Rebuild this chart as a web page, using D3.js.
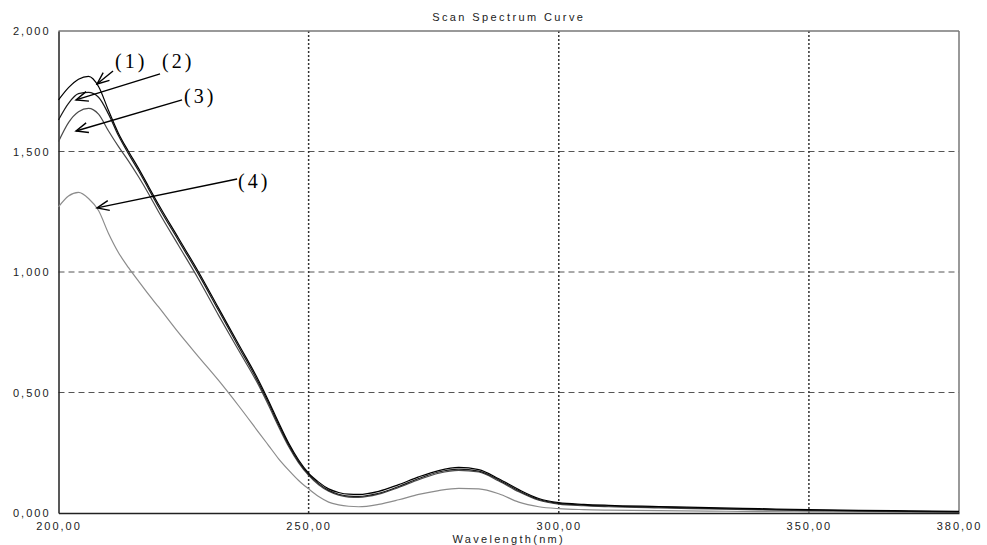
<!DOCTYPE html>
<html>
<head>
<meta charset="utf-8">
<script src="https://cdn.jsdelivr.net/npm/d3@7"></script>
<style>
  body { margin: 0; background: #fff; }
  svg { display: block; }
</style>
</head>
<body>
<svg width="987" height="545"></svg>
<script>
// wavelength (nm) sampling points shared by all four scans
var wavelengths = [200, 202, 204, 206, 208, 210, 212, 214, 216, 218, 220, 224, 228, 232, 236, 240,
  242, 244, 246, 248, 250, 252, 254, 256, 258, 260, 264, 268, 272, 276, 280, 284, 288, 292, 296,
  300, 305, 310, 320, 330, 340, 350, 360, 370, 380];

var curve1 = [1.714, 1.765, 1.800, 1.812, 1.770, 1.670, 1.575, 1.500, 1.430, 1.355, 1.280, 1.140, 1.000, 0.850, 0.700, 0.550,
  0.465, 0.375, 0.290, 0.220, 0.165, 0.128, 0.100, 0.085, 0.078, 0.077, 0.090, 0.118, 0.150, 0.176, 0.189, 0.180, 0.142, 0.097, 0.060,
  0.043, 0.036, 0.032, 0.027, 0.022, 0.018, 0.014, 0.011, 0.009, 0.007];

var curve2 = [1.631, 1.700, 1.740, 1.745, 1.725, 1.655, 1.565, 1.490, 1.420, 1.345, 1.270, 1.130, 0.990, 0.840, 0.690, 0.540,
  0.456, 0.366, 0.282, 0.213, 0.160, 0.122, 0.094, 0.078, 0.070, 0.069, 0.082, 0.110, 0.143, 0.170, 0.182, 0.174, 0.137, 0.092, 0.056,
  0.040, 0.033, 0.029, 0.024, 0.019, 0.015, 0.012, 0.009, 0.007, 0.005];

var curve3 = [1.541, 1.620, 1.665, 1.679, 1.655, 1.585, 1.520, 1.460, 1.395, 1.325, 1.250, 1.110, 0.970, 0.820, 0.675, 0.530,
  0.446, 0.358, 0.276, 0.208, 0.156, 0.117, 0.090, 0.074, 0.066, 0.065, 0.078, 0.106, 0.138, 0.165, 0.177, 0.170, 0.133, 0.088, 0.053,
  0.037, 0.030, 0.026, 0.021, 0.017, 0.013, 0.010, 0.008, 0.006, 0.004];

var curve4 = [1.270, 1.315, 1.330, 1.305, 1.255, 1.160, 1.080, 1.018, 0.962, 0.907, 0.855, 0.748, 0.648, 0.550, 0.445, 0.335,
  0.280, 0.225, 0.178, 0.135, 0.100, 0.068, 0.045, 0.034, 0.028, 0.026, 0.036, 0.055, 0.077, 0.093, 0.102, 0.100, 0.080, 0.045, 0.026,
  0.018, 0.014, 0.012, 0.010, 0.008, 0.006, 0.005, 0.004, 0.003, 0.002];

var seriesLabels = ["(1)", "(2)", "(3)", "(4)"];
var seriesColors = ["#000", "#1a1a1a", "#4a4a4a", "#8c8c8c"];

var xTicks = [200, 250, 300, 350, 380];
var xTickLabels = ["200,00", "250,00", "300,00", "350,00", "380,00"];
var yTicks = [0, 0.5, 1, 1.5, 2];
var yTickLabels = ["0,000", "0,500", "1,000", "1,500", "2,000"];

// annotation labels and arrows, in wavelength / absorbance units
var labelWl = [211.3, 220.7, 225.1, 235.9];
var labelAbs = [1.846, 1.846, 1.701, 1.349];
var arrowFromWl = [210.9, 220.3, 224.7, 235.7];
var arrowFromAbs = [1.834, 1.822, 1.714, 1.386];
var arrowToWl = [207.7, 203.5, 203.5, 207.7];
var arrowToAbs = [1.780, 1.714, 1.585, 1.266];

var svg = d3.select("svg"),
  margin = { top: 31, right: 28, bottom: 32, left: 58.5 },
  width = +svg.attr("width") - margin.left - margin.right,
  height = +svg.attr("height") - margin.top - margin.bottom,
  g = svg.append("g").attr("transform", "translate(" + margin.left + "," + margin.top + ")");

var x = d3.scaleLinear().domain([200, 380]).range([0, width]);
var y = d3.scaleLinear().domain([0, 2]).range([height, 0]);

// grid
g.append("g")
  .selectAll("line")
  .data([0.5, 1, 1.5])
  .enter().append("line")
  .attr("x1", 0).attr("x2", width)
  .attr("y1", function(d) { return y(d); })
  .attr("y2", function(d) { return y(d); })
  .attr("stroke", "#555")
  .attr("stroke-width", 1)
  .attr("stroke-dasharray", "6,4");

g.append("g")
  .selectAll("line")
  .data([250, 300, 350])
  .enter().append("line")
  .attr("x1", function(d) { return x(d); })
  .attr("x2", function(d) { return x(d); })
  .attr("y1", 0).attr("y2", height)
  .attr("stroke", "#333")
  .attr("stroke-width", 1.5)
  .attr("stroke-dasharray", "2,2");

// frame
g.append("line").attr("x1", 0).attr("x2", width).attr("y1", 0).attr("y2", 0)
  .attr("stroke", "#777").attr("stroke-width", 1.5);
g.append("line").attr("x1", width).attr("x2", width).attr("y1", 0).attr("y2", height)
  .attr("stroke", "#777").attr("stroke-width", 1.5);

// axes
var xAxis = g.append("g")
  .attr("transform", "translate(0," + height + ")")
  .call(d3.axisBottom(x).tickValues(xTicks).tickSize(0).tickPadding(9)
    .tickFormat(function(d, i) { return xTickLabels[i]; }));

var yAxis = g.append("g")
  .call(d3.axisLeft(y).tickValues(yTicks).tickSize(0).tickPadding(8)
    .tickFormat(function(d, i) { return yTickLabels[i]; }));

[xAxis, yAxis].forEach(function(a) {
  a.select(".domain").attr("stroke", "#222").attr("stroke-width", 1.5);
  a.selectAll("text")
    .attr("font-family", "Liberation Sans, Arial, sans-serif")
    .attr("font-size", 11)
    .attr("letter-spacing", "2px")
    .attr("fill", "#222");
});

// curves
var series = [curve1, curve2, curve3, curve4];
var line = d3.line()
  .x(function(d, i) { return x(wavelengths[i]); })
  .y(function(d) { return y(d); })
  .curve(d3.curveMonotoneX);

g.append("g")
  .selectAll("path")
  .data(series.slice().reverse())
  .enter().append("path")
  .attr("fill", "none")
  .attr("stroke", function(d, i) { return seriesColors[3 - i]; })
  .attr("stroke-width", 1.2)
  .attr("d", line);

// arrows
svg.append("defs").append("marker")
  .attr("id", "head")
  .attr("markerUnits", "userSpaceOnUse")
  .attr("markerWidth", 16).attr("markerHeight", 16)
  .attr("refX", 0).attr("refY", 0)
  .attr("viewBox", "-14 -8 16 16")
  .attr("orient", "auto")
  .append("path")
  .attr("d", "M-12,-5L0,0L-12,5")
  .attr("fill", "none")
  .attr("stroke", "#000")
  .attr("stroke-width", 1.4);

var notes = g.append("g").selectAll("g")
  .data(seriesLabels)
  .enter().append("g");

notes.append("line")
  .attr("x1", function(d, i) { return x(arrowFromWl[i]); })
  .attr("y1", function(d, i) { return y(arrowFromAbs[i]); })
  .attr("x2", function(d, i) { return x(arrowToWl[i]); })
  .attr("y2", function(d, i) { return y(arrowToAbs[i]); })
  .attr("stroke", "#000")
  .attr("stroke-width", 1.4)
  .attr("marker-end", "url(#head)");

notes.append("text")
  .attr("x", function(d, i) { return x(labelWl[i]); })
  .attr("y", function(d, i) { return y(labelAbs[i]); })
  .attr("font-family", "Liberation Serif, Times New Roman, serif")
  .attr("font-size", 20)
  .attr("letter-spacing", "3px")
  .attr("fill", "#000")
  .text(function(d) { return d; });

// titles
svg.append("text")
  .attr("x", margin.left + width / 2)
  .attr("y", 21)
  .attr("text-anchor", "middle")
  .attr("font-family", "Liberation Sans, Arial, sans-serif")
  .attr("font-size", 11)
  .attr("letter-spacing", "2.4px")
  .attr("fill", "#222")
  .text("Scan Spectrum Curve");

svg.append("text")
  .attr("x", margin.left + width / 2)
  .attr("y", 543)
  .attr("text-anchor", "middle")
  .attr("font-family", "Liberation Sans, Arial, sans-serif")
  .attr("font-size", 11)
  .attr("letter-spacing", "2.3px")
  .attr("fill", "#222")
  .text("Wavelength(nm)");
</script>
</body>
</html>
